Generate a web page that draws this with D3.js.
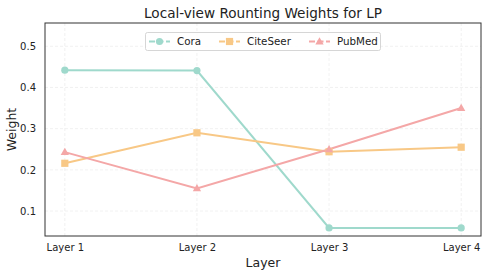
<!DOCTYPE html>
<html><head><meta charset="utf-8">
<script src="https://cdn.jsdelivr.net/npm/d3@7"></script>
<style>body{margin:0;background:#fff}svg{display:block;font-family:"DejaVu Sans",sans-serif}</style>
</head><body><svg id="c" width="488" height="275"></svg>
<script>
const categories = ["Layer 1","Layer 2","Layer 3","Layer 4"];
const cora = [0.442, 0.441, 0.059, 0.059];
const citeseer = [0.216, 0.290, 0.244, 0.255];
const pubmed = [0.243, 0.155, 0.250, 0.350];
const yTicks = [0.1,0.2,0.3,0.4,0.5];
const seriesNames = ["Cora","CiteSeer","PubMed"];
const colors = ["#9fd9cc","#f8c886","#f4a7a7"];

const svg = d3.select("#c");
const L=45,R=481,T=23,B=236;
const x = d3.scaleLinear().domain([-0.15,3.15]).range([L,R]);
const y = d3.scaleLinear().domain([0.0395,0.5565]).range([B,T]);

// grid
const g = svg.append("g");
g.selectAll(".gy").data(yTicks).join("line").attr("x1",L).attr("x2",R)
 .attr("y1",d=>y(d)).attr("y2",d=>y(d)).attr("stroke","#ededed").attr("stroke-width",0.8).attr("stroke-dasharray","3,2");
g.selectAll(".gx").data(categories).join("line").attr("y1",T).attr("y2",B)
 .attr("x1",(d,i)=>x(i)).attr("x2",(d,i)=>x(i)).attr("stroke","#ededed").attr("stroke-width",0.8).attr("stroke-dasharray","3,2");

// axes
const ax = d3.axisBottom(x).tickValues([0,1,2,3]).tickFormat(i=>categories[i]).tickSize(0).tickPadding(8);
const axG = svg.append("g").attr("transform",`translate(0,${B})`).call(ax);
axG.select(".domain").remove();
axG.selectAll("text").attr("font-size",10).attr("fill","#222").attr("font-family","DejaVu Sans");
const ay = d3.axisLeft(y).tickValues(yTicks).tickFormat(d3.format(".1f")).tickSize(0).tickPadding(9);
const ayG = svg.append("g").attr("transform",`translate(${L},0)`).call(ay);
ayG.select(".domain").remove();
ayG.selectAll("text").attr("font-size",10).attr("fill","#222").attr("font-family","DejaVu Sans");

// lines
const all = [cora,citeseer,pubmed];
const line = d3.line().x((d,i)=>x(i)).y(d=>y(d));
all.forEach((s,k)=>{
  svg.append("path").attr("d",line(s)).attr("fill","none").attr("stroke",colors[k]).attr("stroke-width",2);
});
function marker(sel,k,cx,cy){
  if(k===0) sel.append("circle").attr("cx",cx).attr("cy",cy).attr("r",3.6).attr("fill",colors[k]);
  else if(k===1) sel.append("rect").attr("x",cx-3.6).attr("y",cy-3.6).attr("width",7.2).attr("height",7.2).attr("fill",colors[k]);
  else sel.append("path").attr("d",d3.symbol(d3.symbolTriangle,30)()).attr("transform",`translate(${cx},${cy+0.5})`).attr("fill",colors[k]);
}
all.forEach((s,k)=>{ s.forEach((v,i)=>marker(svg,k,x(i),y(v))); });

// frame
svg.append("rect").attr("x",L).attr("y",T).attr("width",R-L).attr("height",B-T).attr("fill","none").attr("stroke","#333").attr("stroke-width",1);

// legend
const lg = svg.append("g");
lg.append("rect").attr("x",145.5).attr("y",32.5).attr("width",235).attr("height",18).attr("rx",2)
  .attr("fill","#fff").attr("fill-opacity",0.85).attr("stroke","#ccc").attr("stroke-width",0.8);
const lx=[149,219,309];
seriesNames.forEach((n,k)=>{
  lg.append("line").attr("x1",lx[k]).attr("x2",lx[k]+21).attr("y1",41.5).attr("y2",41.5).attr("stroke",colors[k]).attr("stroke-width",2).attr("stroke-dasharray","6,2.5");
  marker(lg,k,lx[k]+10.5,41.5);
  lg.append("text").attr("x",lx[k]+28).attr("y",45.2).attr("font-size",10.3).attr("fill","#222").text(n);
});

// titles
svg.append("text").attr("x",(L+R)/2).attr("y",18).attr("text-anchor","middle").attr("font-size",13.6).attr("fill","#222").text("Local-view Rounting Weights for LP");
svg.append("text").attr("x",(L+R)/2).attr("y",267).attr("text-anchor","middle").attr("font-size",12.5).attr("fill","#222").text("Layer");
svg.append("text").attr("transform",`translate(16,${(T+B)/2}) rotate(-90)`).attr("text-anchor","middle").attr("font-size",12.5).attr("fill","#222").text("Weight");
</script></body></html>
